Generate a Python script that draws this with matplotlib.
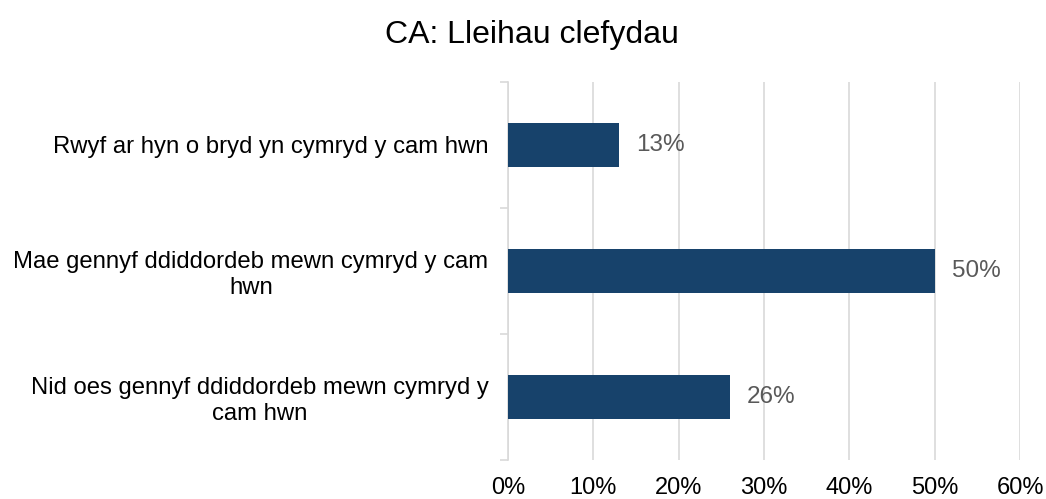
import matplotlib
matplotlib.use("Agg")
import matplotlib.pyplot as plt
from matplotlib.ticker import FixedLocator, NullFormatter

plt.rcParams['font.family'] = ['Liberation Sans', 'DejaVu Sans']

title = "CA: Lleihau clefydau"
categories = [
    "Rwyf ar hyn o bryd yn cymryd y cam hwn",
    "Mae gennyf ddiddordeb mewn cymryd y cam\nhwn",
    "Nid oes gennyf ddiddordeb mewn cymryd y\ncam hwn",
]
values = [13, 50, 26]
xticks = [0, 10, 20, 30, 40, 50, 60]

fig = plt.figure(figsize=(10.46, 4.99), dpi=100)
ax = fig.add_axes([0.4857, 0.0782, 0.4895, 0.7575])

ypos = list(range(len(categories)))
ax.barh(ypos, values, height=0.35, color="#17426B", zorder=3)
ax.set_ylim(len(categories) - 0.5, -0.5)
ax.set_xlim(0, 60)

for y, v in zip(ypos, values):
    ax.text(v + 2.0, y, f"{v}%", va="center", ha="left", fontsize=17.5, color="#595959")

ax.set_xticks(xticks)
ax.set_xticklabels([f"{t}%" for t in xticks], fontsize=17, color="#000000")
ax.tick_params(axis="x", length=0, pad=12)
ax.grid(axis="x", color="#D9D9D9", linewidth=1.2, zorder=0)

ax.set_yticks(ypos)
ax.set_yticklabels(categories, fontsize=17.2, multialignment="center", linespacing=1.2)
ax.tick_params(axis="y", which="major", length=0, pad=14)
ax.yaxis.set_minor_locator(FixedLocator([-0.5, 0.5, 1.5, 2.5]))
ax.yaxis.set_minor_formatter(NullFormatter())
ax.tick_params(axis="y", which="minor", length=6, color="#D9D9D9", width=1.2)

for s in ["top", "right", "bottom"]:
    ax.spines[s].set_visible(False)
ax.spines["left"].set_color("#D9D9D9")
ax.spines["left"].set_linewidth(1.2)

fig.text(0.509, 0.93, title, ha="center", va="center", fontsize=23)

fig.savefig("out.png", dpi=100)
